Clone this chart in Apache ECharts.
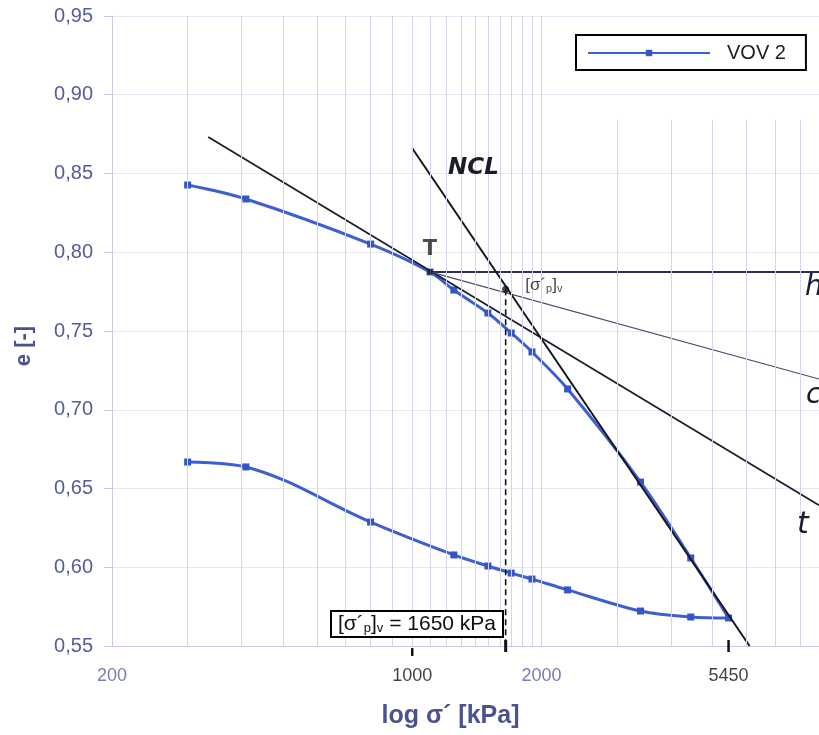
<!DOCTYPE html>
<html>
<head>
<meta charset="utf-8">
<script src="https://cdn.jsdelivr.net/npm/echarts@6/dist/echarts.min.js"></script>
<style>
  html, body { margin: 0; padding: 0; background: #ffffff; }
  #chart { width: 819px; height: 735px; }
</style>
</head>
<body>
<div id="chart"></div>
<script>
// Oedometer test VOV 2: void ratio e against effective vertical stress (log scale)

// loading branch
const loadStress = [300, 410, 800, 1100, 1250, 1500, 1700, 1900, 2300, 3400, 4450, 5450];
const loadVoid   = [0.8427, 0.8338, 0.8052, 0.7875, 0.7760, 0.7614, 0.7487, 0.7367, 0.7132, 0.6541, 0.6059, 0.5678];

// unloading branch
const unloadStress = [4450, 3400, 2300, 1900, 1700, 1500, 1250, 800, 410, 300];
const unloadVoid   = [0.5684, 0.5722, 0.5856, 0.5925, 0.5963, 0.6008, 0.6078, 0.6287, 0.6637, 0.6668];

// Casagrande construction
const pointT      = [1100, 0.7875];            // point of maximum curvature
const tangentX    = [335, 8850];               // tangent t
const tangentY    = [0.8732, 0.6393];
const horizX      = [1100, 8850];              // horizontal h
const horizY      = [0.7875, 0.7875];
const bisectX     = [1100, 8850];              // bisector c
const bisectY     = [0.7875, 0.7195];
const nclX        = [1000, 6100];              // normal compression line
const nclY        = [0.8660, 0.5500];
const preconStress = 1650;                     // [σ´p]v in kPa
const preconVoid   = 0.7765;

// axes
const xMin = 200, xMax = 8850;
const yMin = 0.55, yMax = 0.95, yStep = 0.05;
const xTickLabels   = [200, 1000, 2000, 5450];
const xHandLabels   = [1000, 5450];            // values written in black
const xHandTicks    = [1000, 1650, 5450];      // short black strokes under the axis
const gridFull      = [300, 400, 500, 600, 700, 800, 900, 1000, 1100, 1200, 1300, 1400,
                       1500, 1600, 1700, 1800, 1900, 2000];
const gridPartial   = [3000, 4000, 5000, 6000, 7000, 8000];
const gridPartialTop = 0.884;

const FONT = '"Liberation Sans", Arial, sans-serif';
const AXIS_COLOR = '#565b9b';
const TITLE_COLOR = '#4b5290';
const BLUE = '#3d5fd3';
const INK = '#1b1c2c';

const pts = (xs, ys) => xs.map((x, i) => [x, ys[i]]);

function constructionLine(name, xs, ys, style) {
  return {
    name: name, type: 'line', data: pts(xs, ys), symbol: 'none', silent: true,
    lineStyle: style, z: 4, animation: false
  };
}

const handTickSeries = xHandTicks.map(v => ({
  name: 'tick' + v, type: 'line', clip: false, symbol: 'none', silent: true, z: 5,
  data: v === 1000 ? [[v, 0.5487], [v, 0.5437]] : [[v, 0.5538], [v, 0.5462]],
  lineStyle: { color: '#111', width: v === preconStress ? 3 : 2.5 }
}));

const option = {
  animation: false,
  backgroundColor: '#ffffff',
  grid: { left: 112, right: 0, top: 16, bottom: 89, containLabel: false },
  legend: {
    data: ['VOV 2'],
    left: 576, top: 35,
    orient: 'horizontal',
    backgroundColor: '#ffffff',
    borderColor: '#000000', borderWidth: 2, borderRadius: 0,
    padding: [8, 20, 7, 11],
    itemWidth: 122, itemHeight: 8,
    lineStyle: { width: 2 },
    textStyle: { fontFamily: FONT, fontSize: 20, color: '#222', padding: [0, 0, 0, 12] }
  },
  xAxis: {
    type: 'log', logBase: 10, min: xMin, max: xMax,
    name: 'log σ´ [kPa]', nameLocation: 'middle', nameGap: 58,
    nameTextStyle: { fontFamily: FONT, fontSize: 25, fontWeight: 'bold', color: TITLE_COLOR, padding: [0, 30, 0, 0] },
    axisLine: { show: true, lineStyle: { color: '#c6caef', width: 1 } },
    axisTick: { show: false },
    axisLabel: { show: false },
    splitLine: { show: false },
    minorTick: { show: false },
    minorSplitLine: { show: false }
  },
  yAxis: {
    type: 'value', min: yMin, max: yMax, interval: yStep,
    name: 'e [-]', nameLocation: 'middle', nameGap: 77, nameRotate: 90,
    nameTextStyle: { fontFamily: FONT, fontSize: 22, fontWeight: 'bold', color: TITLE_COLOR, padding: [0, 30, 0, 0] },
    axisLine: { show: true, lineStyle: { color: '#c6caef', width: 1 } },
    axisTick: { show: true, length: 8, lineStyle: { color: '#c6caef' } },
    axisLabel: {
      margin: 19, fontFamily: FONT, fontSize: 20, color: AXIS_COLOR,
      formatter: v => v.toFixed(2).replace('.', ',')
    },
    splitLine: { show: true, lineStyle: { color: '#e6e8f6', width: 1 } }
  },
  series: [
    {
      name: 'gridlines', type: 'line', data: [], silent: true, z: 1,
      markLine: {
        silent: true, symbol: 'none', animation: false,
        label: { show: false },
        lineStyle: { color: '#d2d5f1', width: 1, type: 'solid' },
        data: gridFull.map(v => ({ xAxis: v }))
          .concat(gridPartial.map(v => [{ coord: [v, yMin] }, { coord: [v, gridPartialTop] }]))
      }
    },
    {
      name: 'VOV 2', type: 'line',
      data: pts(loadStress, loadVoid).concat(pts(unloadStress, unloadVoid)),
      smooth: 0.35,
      symbol: 'rect', symbolSize: 7,
      lineStyle: { color: BLUE, width: 3 },
      itemStyle: { color: '#3555c8' },
      z: 3
    },
    constructionLine('t', tangentX, tangentY, { color: INK, width: 1.8 }),
    constructionLine('h', horizX, horizY, { color: '#2c2f5e', width: 2 }),
    constructionLine('c', bisectX, bisectY, { color: '#474a6c', width: 1.2 }),
    constructionLine('NCL', nclX, nclY, { color: '#15161f', width: 2 }),
    constructionLine('precon', [preconStress, preconStress], [preconVoid, yMin],
      { color: '#111', width: 1.6, type: [6, 4] }),
    {
      name: 'T', type: 'scatter', data: [pointT], symbol: 'circle', symbolSize: 6,
      itemStyle: { color: '#222' }, z: 6, silent: true,
      label: {
        show: true, position: 'top', distance: 9, formatter: 'T',
        fontFamily: '"DejaVu Sans", sans-serif', fontSize: 21, fontWeight: 'bold', color: '#222'
      }
    },
    {
      name: 'σp', type: 'scatter', data: [[preconStress, preconVoid]], symbol: 'circle', symbolSize: 7,
      itemStyle: { color: '#111' }, z: 6, silent: true,
      label: {
        show: true, position: 'right', distance: 16, offset: [0, -4],
        formatter: '{a|[σ´}{s|p}{a|]}{s|v}',
        rich: {
          a: { fontFamily: FONT, fontSize: 17, color: '#111' },
          s: { fontFamily: FONT, fontSize: 11, color: '#111', padding: [7, 0, 0, 0] }
        }
      }
    },
    {
      name: 'xlabels', type: 'scatter', data: xTickLabels.map(v => [v, yMin]),
      symbolSize: 0, silent: true, z: 6,
      label: {
        show: true, position: 'bottom', distance: 21,
        formatter: p => (xHandLabels.indexOf(p.value[0]) >= 0 ? '{k|' : '{b|') + p.value[0] + '}',
        rich: {
          b: { fontFamily: FONT, fontSize: 18, color: AXIS_COLOR },
          k: { fontFamily: FONT, fontSize: 18, color: '#111' }
        }
      }
    }
  ].concat(handTickSeries),
  graphic: [
    {
      type: 'text', left: 448, top: 157, z: 10, silent: true,
      style: { text: 'NCL', font: 'italic bold 23px "DejaVu Sans", sans-serif', fill: '#1a1b2b' }
    },
    {
      type: 'text', left: 805, top: 274, z: 10, silent: true,
      style: { text: 'h', font: 'italic 28px "DejaVu Sans", sans-serif', fill: '#1a1b2b' }
    },
    {
      type: 'text', left: 806, top: 382, z: 10, silent: true,
      style: { text: 'c', font: 'italic 28px "DejaVu Sans", sans-serif', fill: '#1a1b2b' }
    },
    {
      type: 'text', left: 797, top: 510, z: 10, silent: true,
      style: { text: 't', font: 'italic 30px "DejaVu Sans", sans-serif', fill: '#1a1b2b' }
    },
    {
      type: 'text', left: 330, top: 610, z: 10, silent: true,
      style: {
        text: '{a|[σ´}{s|p}{a|]}{s|v}{a| = ' + preconStress + ' kPa}',
        rich: {
          a: { fontFamily: FONT, fontSize: 21, fill: '#111' },
          s: { fontFamily: FONT, fontSize: 13, fill: '#111', padding: [8, 0, 0, 0] }
        },
        backgroundColor: '#ffffff', borderColor: '#000000', borderWidth: 2,
        padding: [2, 6, 1, 6]
      }
    }
  ]
};

const chart = echarts.init(document.getElementById('chart'), null, { renderer: 'canvas' });
chart.setOption(option);
</script>
</body>
</html>
